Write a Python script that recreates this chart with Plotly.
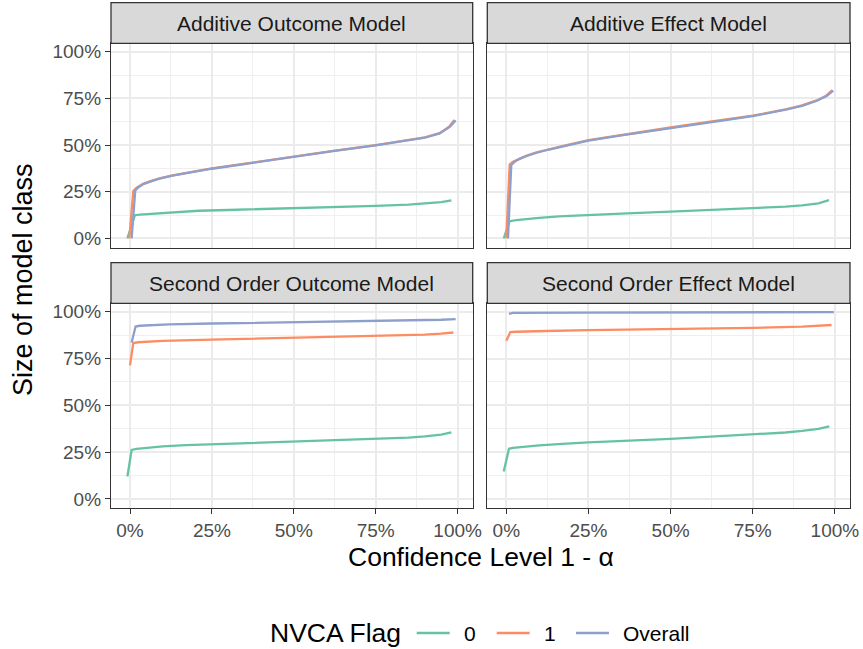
import plotly.graph_objects as go

# ---------------- data (percent) ----------------
panels = ["Additive Outcome Model", "Additive Effect Model",
          "Second Order Outcome Model", "Second Order Effect Model"]
groups = ["0", "1", "Overall"]
colors = {"0": "#66C2A5", "1": "#FC8D62", "Overall": "#8DA0CB"}
legend_title = "NVCA Flag"

# Additive Outcome Model
ao_x0 = [-0.8, 1.5, 3, 5, 10, 16, 21, 30, 50, 75, 85, 90, 95, 98.1]
ao_y0 = [0.0, 12.4, 12.7, 12.9, 13.6, 14.3, 14.8, 15.2, 16.0, 17.4, 18.1, 18.6, 19.4, 20.4]
ao_x1 = [-0.2, 1.0, 2.0, 4, 6, 9, 13, 18, 25, 35, 50, 62, 75, 85, 90, 94.5, 97.4, 99.0]
ao_y1 = [0.0, 25.4, 27.2, 29.2, 30.5, 32.2, 33.8, 35.5, 37.5, 40.0, 44.0, 46.9, 50.0, 52.5, 54.1, 56.4, 59.8, 63.4]
ao_xa = [0.5, 1.6, 2.5, 4, 6, 9, 13, 18, 25, 35, 50, 62, 75, 85, 90, 94.5, 97.6, 99.4]
ao_ya = [0.0, 25.6, 27.3, 29.0, 30.3, 32.0, 33.6, 35.3, 37.3, 39.8, 43.8, 46.7, 49.8, 52.3, 53.9, 56.2, 59.7, 63.2]

# Additive Effect Model
ae_x0 = [-0.8, 1.0, 3, 5, 10, 16, 22, 35, 50, 75, 85, 90, 95, 98.2]
ae_y0 = [0.0, 9.2, 9.8, 10.2, 11.0, 11.8, 12.4, 13.3, 14.3, 16.0, 17.0, 17.7, 18.8, 20.5]
ae_x1 = [0.0, 1.0, 2.0, 4, 6, 9, 13, 18, 25, 35, 50, 62, 75, 85, 90, 94.5, 97.3, 99.2]
ae_y1 = [0.0, 39.5, 41.0, 42.8, 44.2, 46.0, 47.8, 49.8, 52.6, 55.4, 59.4, 62.5, 65.7, 69.1, 71.2, 73.9, 76.4, 79.4]
ae_xa = [0.5, 1.5, 2.5, 4, 6, 9, 13, 18, 25, 35, 50, 62, 75, 85, 90, 94.5, 97.5, 99.5]
ae_ya = [0.0, 39.3, 41.0, 42.6, 44.0, 45.8, 47.6, 49.6, 52.4, 55.2, 59.2, 62.3, 65.5, 68.9, 71.0, 73.7, 76.3, 79.2]

# Second Order Outcome Model
so_x0 = [-0.8, 0.5, 2, 5, 10, 17, 25, 50, 75, 85, 90, 95, 98.1]
so_y0 = [12.0, 26.2, 26.8, 27.4, 28.1, 28.7, 29.2, 30.6, 32.0, 32.8, 33.4, 34.3, 35.5]
so_x1 = [0.0, 1.0, 2.5, 5, 10, 25, 50, 75, 90, 95, 98.7]
so_y1 = [71.4, 83.3, 83.7, 84.0, 84.4, 85.1, 86.0, 87.0, 87.8, 88.3, 88.9]
so_xa = [0.5, 1.7, 3, 6, 12, 25, 50, 75, 90, 95, 99.4]
so_ya = [83.6, 92.1, 92.5, 92.8, 93.2, 93.7, 94.3, 94.9, 95.4, 95.7, 96.1]

# Second Order Effect Model
se_x0 = [-0.8, 0.8, 2, 5, 10, 17, 25, 50, 75, 85, 90, 95, 98.3]
se_y0 = [14.6, 26.8, 27.3, 27.9, 28.6, 29.4, 30.2, 32.1, 34.4, 35.5, 36.3, 37.4, 38.8]
se_x1 = [0.0, 1.2, 3, 6, 12, 25, 50, 75, 90, 95, 99.0]
se_y1 = [84.5, 89.1, 89.3, 89.5, 89.7, 90.2, 90.7, 91.4, 92.0, 92.4, 92.9]
se_xa = [0.8, 2.0, 25, 50, 75, 99.7]
se_ya = [98.9, 99.4, 99.5, 99.6, 99.7, 99.8]

series = [
    [(ao_x0, ao_y0), (ao_x1, ao_y1), (ao_xa, ao_ya)],
    [(ae_x0, ae_y0), (ae_x1, ae_y1), (ae_xa, ae_ya)],
    [(so_x0, so_y0), (so_x1, so_y1), (so_xa, so_ya)],
    [(se_x0, se_y0), (se_x1, se_y1), (se_xa, se_ya)],
]

tick_vals = [0, 25, 50, 75, 100]
tick_text = ["0%", "25%", "50%", "75%", "100%"]

# ---------------- layout geometry ----------------
W, H = 863, 649
xdom = [[111 / W, 472.7 / W], [487.3 / W, 850 / W]]
ydom = [[1 - 247.7 / H, 1 - 43.3 / H], [1 - 508.3 / H, 1 - 303.3 / H]]
strip_h = 40.6 / H

FONT = "Liberation Sans, Arial, Helvetica, sans-serif"
fig = go.Figure()

for p in range(4):
    row, col = divmod(p, 2)
    ax = "" if p == 0 else str(p + 1)
    for g, (xs, ys) in zip(groups, series[p]):
        fig.add_trace(go.Scatter(
            x=xs, y=ys, mode="lines", name=g,
            line=dict(color=colors[g], width=2.3),
            xaxis="x" + ax, yaxis="y" + ax,
            legendgroup=g, showlegend=False,
        ))
    common = dict(
        showgrid=True, gridcolor="#EBEBEB", gridwidth=1.6,
        zeroline=False, showline=True, linecolor="#333333", linewidth=1.3,
        mirror=True,
        tickvals=tick_vals, ticktext=tick_text,
        tickfont=dict(family=FONT, size=19, color="#4D4D4D"),
        ticklen=5, tickcolor="#333333", tickwidth=1.3,
        minor=dict(tickvals=[12.5, 37.5, 62.5, 87.5], showgrid=True,
                   gridcolor="#EFEFEF", gridwidth=0.8, ticks=""),
    )
    fig.layout["xaxis" + ax] = dict(
        common, domain=xdom[col], anchor="y" + ax, range=[-5.8, 104.6],
        ticks="outside" if row == 1 else "", showticklabels=(row == 1),
    )
    fig.layout["yaxis" + ax] = dict(
        common, domain=ydom[row], anchor="x" + ax, range=[-5.0, 104.5],
        ticks="outside" if col == 0 else "", showticklabels=(col == 0),
    )
    # facet strip
    fig.add_shape(type="rect", xref="paper", yref="paper",
                  x0=xdom[col][0], x1=xdom[col][1],
                  y0=ydom[row][1], y1=ydom[row][1] + strip_h,
                  fillcolor="#D9D9D9", line=dict(color="#333333", width=1.3),
                  layer="above")
    fig.add_annotation(x=(xdom[col][0] + xdom[col][1]) / 2,
                       y=ydom[row][1] + strip_h / 2, xref="paper", yref="paper",
                       text=panels[p], showarrow=False,
                       font=dict(family=FONT, size=21, color="#1A1A1A"),
                       xanchor="center", yanchor="middle")

# axis titles
fig.add_annotation(x=480.5 / W, y=1 - 557 / H, xref="paper", yref="paper",
                   text="Confidence Level 1 - α", showarrow=False,
                   font=dict(family=FONT, size=26.5, color="black"),
                   xanchor="center", yanchor="middle")
fig.add_annotation(x=23 / W, y=1 - 280 / H, xref="paper", yref="paper",
                   text="Size of model class", showarrow=False, textangle=-90,
                   font=dict(family=FONT, size=27, color="black"),
                   xanchor="center", yanchor="middle")

# legend (bottom, horizontal, ggplot style)
leg_y = 1 - 633 / H
fig.add_annotation(x=268 / W, y=leg_y, xref="paper", yref="paper",
                   text=legend_title, showarrow=False, xanchor="left",
                   yanchor="middle",
                   font=dict(family=FONT, size=26.5, color="black"))
key_left = [416.7, 496.7, 576.0]
key_len = 33.0
for g, kx in zip(groups, key_left):
    fig.add_shape(type="line", xref="paper", yref="paper",
                  x0=kx / W, x1=(kx + key_len) / W, y0=leg_y, y1=leg_y,
                  line=dict(color=colors[g], width=2.3))
    fig.add_annotation(x=(kx + key_len + 12) / W, y=leg_y, xref="paper",
                       yref="paper", text=g, showarrow=False, xanchor="left",
                       yanchor="middle",
                       font=dict(family=FONT, size=21, color="black"))

fig.update_layout(
    width=W, height=H,
    margin=dict(l=0, r=0, t=0, b=0, autoexpand=False),
    paper_bgcolor="white", plot_bgcolor="white",
    font=dict(family=FONT),
    showlegend=False,
)

fig.write_html("out.html")
